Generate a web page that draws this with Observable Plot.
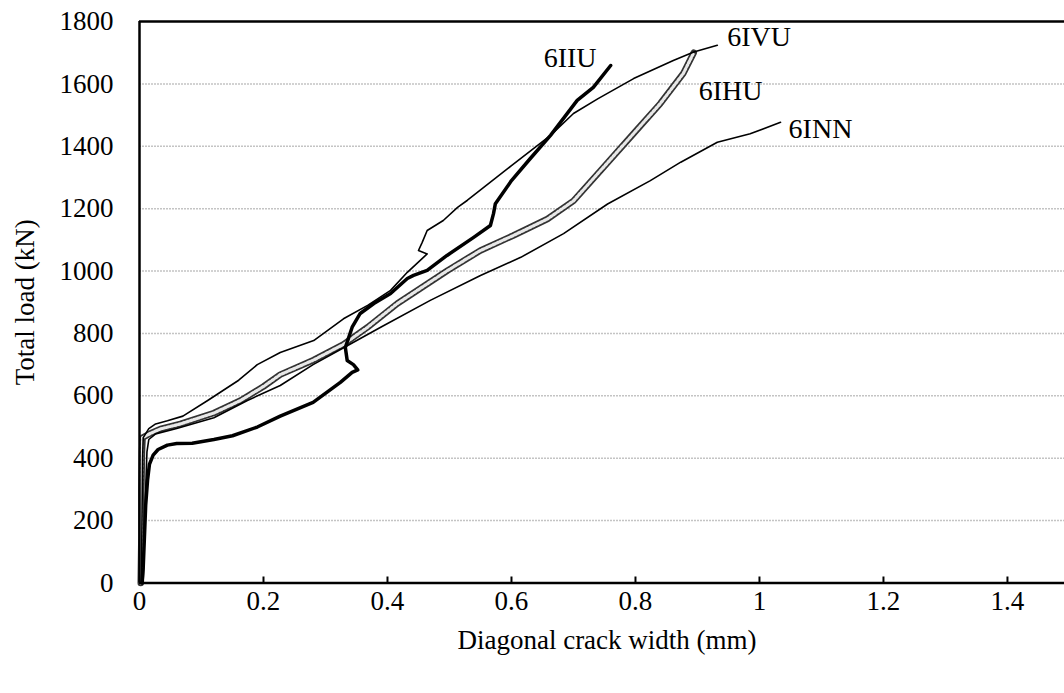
<!DOCTYPE html>
<html><head><meta charset="utf-8">
<script src="https://cdn.jsdelivr.net/npm/d3@7"></script>
<script src="https://cdn.jsdelivr.net/npm/@observablehq/plot@0.6"></script>
<style>body{margin:0;background:#fff;} #chart svg{display:block;}</style>
</head><body><div id="chart"></div>
<script>
// ---- data ----
const xTicks = [0, 0.2, 0.4, 0.6, 0.8, 1.0, 1.2, 1.4];
const yTicks = [0, 200, 400, 600, 800, 1000, 1200, 1400, 1600, 1800];
const gridY = [200, 400, 600, 800, 1000, 1200, 1400, 1600];

const iiuX = [0.004,0.006,0.008,0.010,0.013,0.016,0.022,0.030,0.045,0.060,0.085,0.120,0.150,0.190,0.227,0.280,0.324,0.343,0.352,0.345,0.335,0.332,0.337,0.343,0.356,0.378,0.405,0.432,0.442,0.464,0.496,0.539,0.566,0.571,0.574,0.600,0.630,0.663,0.706,0.732,0.760];
const iiuY = [0,50,150,250,330,380,410,428,442,447,448,460,472,500,535,579,643,675,683,700,713,755,784,820,864,896,928,976,986,1002,1050,1108,1146,1184,1216,1290,1360,1435,1547,1589,1659];

const ivuX = [0.003,0.004,0.005,0.006,0.015,0.026,0.045,0.070,0.110,0.160,0.190,0.227,0.281,0.329,0.368,0.405,0.432,0.458,0.464,0.450,0.456,0.464,0.490,0.513,0.529,0.600,0.663,0.700,0.739,0.797,0.861,0.894,0.932];
const ivuY = [0,200,400,466,495,510,520,535,585,650,700,739,777,847,890,938,996,1044,1055,1066,1092,1130,1162,1204,1227,1338,1435,1505,1552,1617,1675,1702,1724];

const ihuX = [0.002,0.003,0.003,0.004,0.005,0.018,0.034,0.066,0.120,0.163,0.200,0.227,0.281,0.329,0.368,0.416,0.497,0.550,0.603,0.658,0.700,0.744,0.797,0.840,0.877,0.894];
const ihuY = [0,150,300,420,466,480,494,510,545,585,630,668,715,765,820,896,1002,1066,1114,1167,1225,1323,1441,1537,1633,1700];

const innX = [0.006,0.008,0.010,0.012,0.015,0.026,0.060,0.120,0.174,0.227,0.280,0.330,0.389,0.469,0.550,0.615,0.684,0.755,0.824,0.873,0.932,0.985,1.034];
const innY = [0,150,300,420,460,478,495,530,585,633,700,755,820,906,986,1044,1120,1215,1290,1349,1413,1440,1477];

const labelText = ["6IIU", "6IVU", "6IHU", "6INN"];
const labelX = [0.652, 0.948, 0.902, 1.047];
const labelY = [1682, 1749, 1576, 1454];

// ---- build tables ----
const toRows = (xs, ys) => xs.map((x, i) => ({x, y: ys[i]}));
const iiu = toRows(iiuX, iiuY);
const ivu = toRows(ivuX, ivuY);
const ihu = toRows(ihuX, ihuY);
const inn = toRows(innX, innY);
const labels = labelText.map((t, i) => ({t, x: labelX[i], y: labelY[i]}));

const FONT = "'Liberation Serif', 'Times New Roman', serif";

const chart = Plot.plot({
  width: 1064,
  height: 693,
  marginLeft: 139,
  marginRight: 0,
  marginTop: 21,
  marginBottom: 110.5,
  style: {fontFamily: FONT, fontSize: "27px", background: "white", color: "black", overflow: "visible"},
  x: {domain: [0, 1.492], ticks: xTicks},
  y: {domain: [0, 1800], ticks: yTicks},
  marks: [
    Plot.ruleY(gridY, {stroke: "#c4c4c4", strokeWidth: 1.5, strokeDasharray: "2,1"}),
    Plot.ruleY([1800], {stroke: "black", strokeWidth: 2.5}),
    Plot.axisX({ticks: xTicks, tickSize: 0, tickPadding: 8, tickFormat: d => String(+d.toFixed(1)), label: null, fontSize: 27}),
    Plot.axisY({ticks: yTicks, tickSize: 0, tickPadding: 26, tickFormat: d => String(d), label: null, fontSize: 27}),
    Plot.ruleX(xTicks.slice(1), {y1: 0, y2: 0, insetBottom: 6, stroke: "black", strokeWidth: 2}),
    // curves
    Plot.line(ihu, {x: "x", y: "y", stroke: "#333", strokeWidth: 6.5}),
    Plot.line(ihu, {x: "x", y: "y", stroke: "#e8e8e8", strokeWidth: 3.2, strokeDasharray: "2,2"}),
    Plot.line(inn, {x: "x", y: "y", stroke: "black", strokeWidth: 1.6}),
    Plot.line(ivu, {x: "x", y: "y", stroke: "black", strokeWidth: 1.6}),
    Plot.line(iiu, {x: "x", y: "y", stroke: "black", strokeWidth: 3.5, strokeLinejoin: "round"}),
    // frame lines
    Plot.ruleX([0], {stroke: "black", strokeWidth: 2.5}),
    Plot.ruleY([0], {stroke: "black", strokeWidth: 2.5}),
    // annotations
    Plot.text(labels, {x: "x", y: "y", text: "t", textAnchor: "start", lineAnchor: "middle", fontSize: 28, fill: "black"}),
    Plot.text(["Diagonal crack width (mm)"], {frameAnchor: "bottom", dy: 57, dx: 5, lineAnchor: "middle", textAnchor: "middle", fontSize: 27, fill: "black"}),
    Plot.text(["Total load (kN)"], {frameAnchor: "left", dx: -114, rotate: -90, lineAnchor: "middle", textAnchor: "middle", fontSize: 27, fill: "black"})
  ]
});
document.getElementById("chart").appendChild(chart);
</script></body></html>
